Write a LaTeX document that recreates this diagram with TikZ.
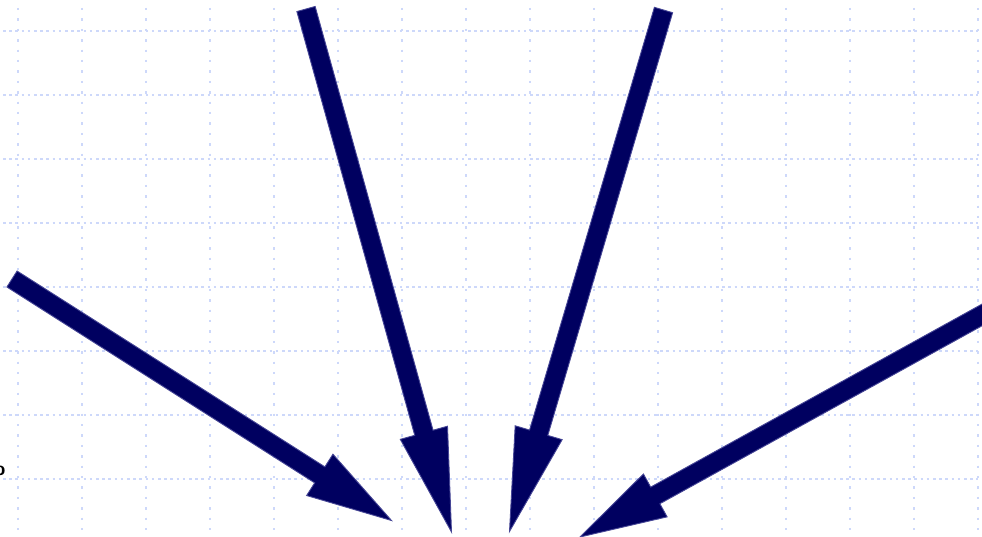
\documentclass[tikz,border=0pt]{standalone}
\usetikzlibrary{calc}
\definecolor{gridblue}{RGB}{205,216,250}
\definecolor{arrowfill}{RGB}{0,0,96}
\definecolor{arrowedge}{RGB}{70,70,150}
\tikzset{
  hgrid/.style={draw=gridblue, line width=1.1pt, dash pattern=on 2.6pt off 3.6pt},
  vgrid/.style={draw=gridblue, line width=1.3pt, dash pattern=on 2.4pt off 8pt},
  bigarrow/.style={fill=arrowfill, draw=arrowedge, line width=0.9pt, line join=miter},
}
% #1 start, #2 tip, #3 head length (pt)
\newcommand{\fatarrow}[3]{%
  \coordinate (B) at ($(#2)!#3pt!(#1)$);
  \path[bigarrow]
    ($(#1)!9.5pt!90:(#2)$) -- ($(B)!9.5pt!90:(#2)$) -- ($(B)!24.5pt!90:(#2)$) -- (#2)
    -- ($(B)!24.5pt!-90:(#2)$) -- ($(B)!9.5pt!-90:(#2)$) -- ($(#1)!9.5pt!-90:(#2)$) -- cycle;
}
\begin{document}
\begin{tikzpicture}[x=1pt,y=-1pt]
\useasboundingbox (0,0) rectangle (982,537);
\clip (0,0) rectangle (982,537);
\fill[white] (0,0) rectangle (982,537);
% grid
\foreach \k in {0,...,7} {
  \draw[hgrid] (3,{31+64*\k}) -- (978,{31+64*\k});
}
\foreach \k in {0,...,15} {
  \draw[vgrid] ({18+64*\k},8) -- ({18+64*\k},537);
}
% clipped glyph at left edge
\node[anchor=east, inner sep=0pt, font=\fontsize{20}{20}\selectfont\bfseries\sffamily] (glyph) at (5.5,471) {o};
% arrow end points
\coordinate (s1) at (12,279);   \coordinate (t1) at (391.5,520.5);
\coordinate (s2) at (306,9);    \coordinate (t2) at (451.5,532);
\coordinate (s3) at (663.5,10); \coordinate (t3) at (509.5,531.5);
\coordinate (s4) at (1000,305); \coordinate (t4) at (580,537);
\fatarrow{s1}{t1}{85}
\fatarrow{s2}{t2}{103}
\fatarrow{s3}{t3}{103}
\fatarrow{s4}{t4}{86}
\end{tikzpicture}
\end{document}
